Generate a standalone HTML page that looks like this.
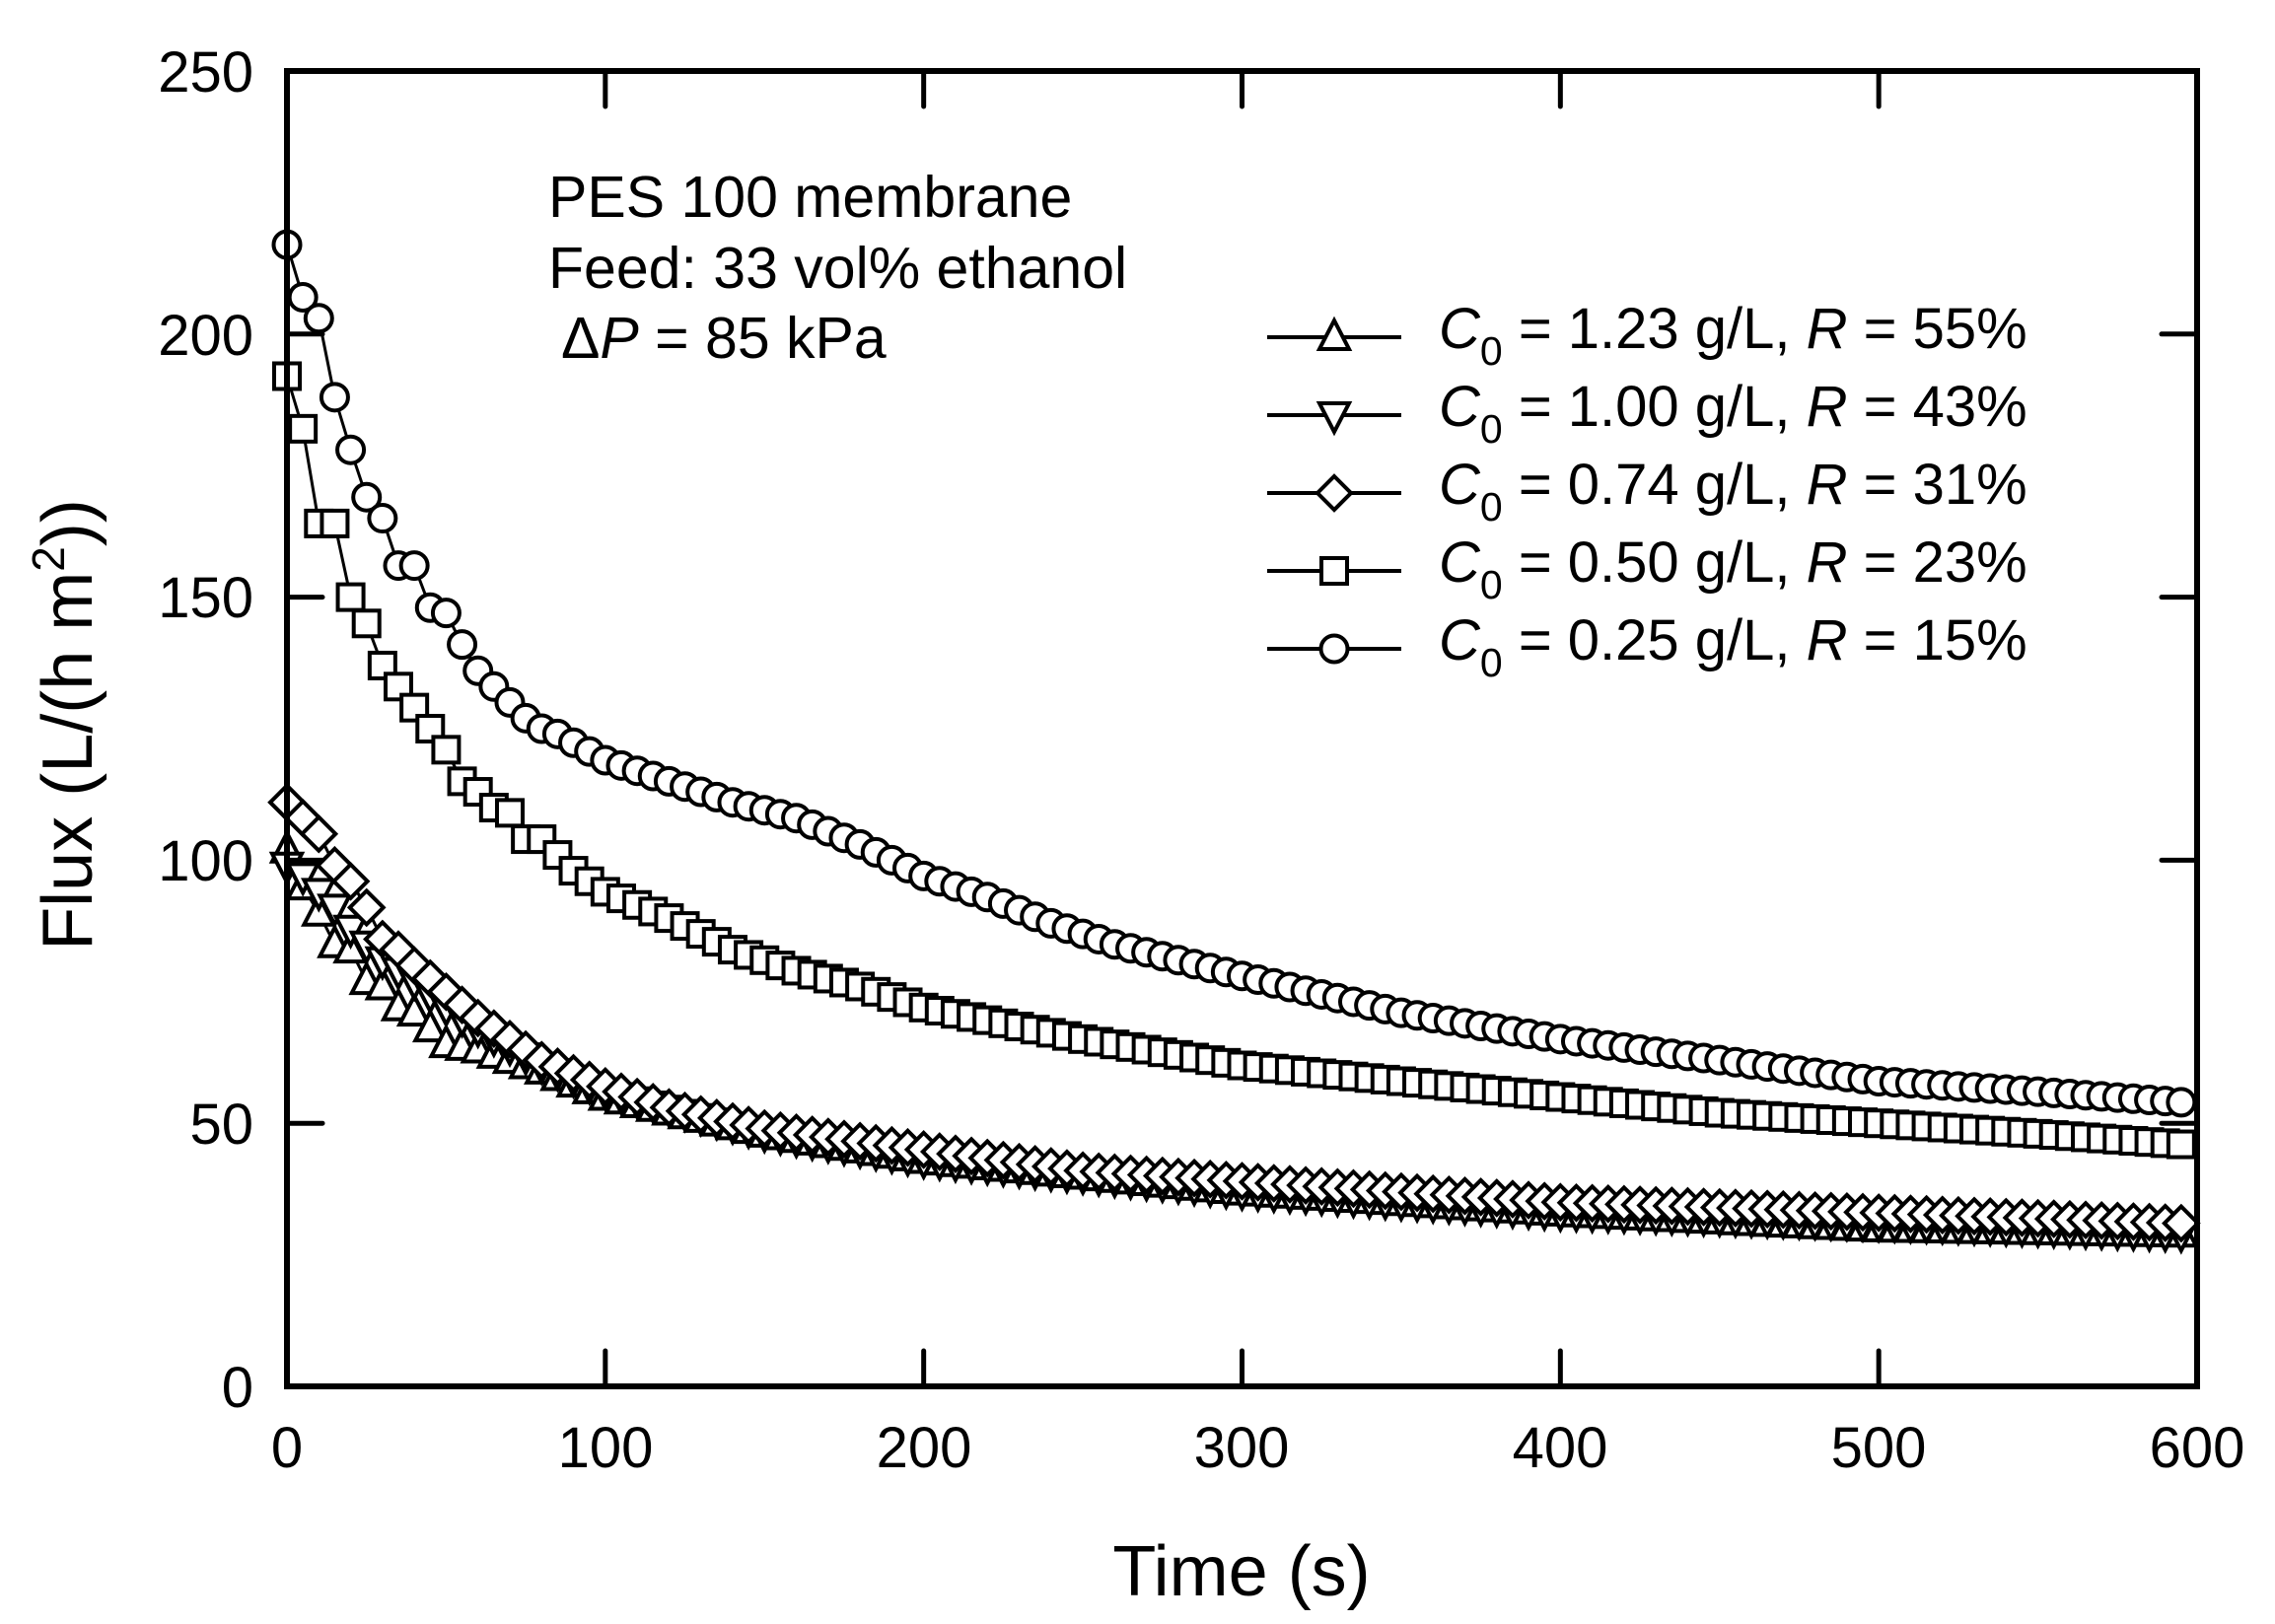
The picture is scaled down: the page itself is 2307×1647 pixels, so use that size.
<!DOCTYPE html>
<html><head><meta charset="utf-8">
<style>
html,body{margin:0;padding:0;background:#fff;}
svg{display:block;}
text{font-family:"Liberation Sans",Arial,sans-serif;fill:#000;}
</style></head>
<body>
<svg id="s" width="2307" height="1647" viewBox="0 0 2307 1647" xmlns="http://www.w3.org/2000/svg">
<rect width="2307" height="1647" fill="#fff"/>
<g id="data"></g>
<g id="axes" stroke="#000" fill="none" stroke-linecap="round">
<rect x="291" y="72" width="1937" height="1334" stroke-width="6"/>
</g>
<g font-size="58" text-anchor="end">
<text x="257" y="1427">0</text>
<text x="257" y="1160">50</text>
<text x="257" y="893">100</text>
<text x="257" y="626">150</text>
<text x="257" y="360">200</text>
<text x="257" y="93">250</text>
</g>
<g font-size="58" text-anchor="middle">
<text x="291" y="1488">0</text>
<text x="614" y="1488">100</text>
<text x="937" y="1488">200</text>
<text x="1259" y="1488">300</text>
<text x="1582" y="1488">400</text>
<text x="1905" y="1488">500</text>
<text x="2228" y="1488">600</text>
</g>
<text x="1259" y="1618" font-size="72" text-anchor="middle">Time (s)</text>
<text transform="translate(93,735) rotate(-90)" font-size="72" text-anchor="middle">Flux (L/(h m<tspan font-size="46" dy="-28">2</tspan><tspan dy="28">))</tspan></text>
<g font-size="59">
<text x="556" y="220">PES 100 membrane</text>
<text x="556" y="292">Feed: 33 vol% ethanol</text>
<text x="569" y="363">Δ<tspan font-style="italic">P</tspan> = 85 kPa</text>
</g>
<g id="legend"></g>
<g font-size="58">
<text x="1459" y="353"><tspan font-style="italic">C</tspan><tspan font-size="41" dy="17">0</tspan><tspan dy="-17"> = 1.23 g/L, </tspan><tspan font-style="italic">R</tspan> = 55%</text>
<text x="1459" y="432"><tspan font-style="italic">C</tspan><tspan font-size="41" dy="17">0</tspan><tspan dy="-17"> = 1.00 g/L, </tspan><tspan font-style="italic">R</tspan> = 43%</text>
<text x="1459" y="511"><tspan font-style="italic">C</tspan><tspan font-size="41" dy="17">0</tspan><tspan dy="-17"> = 0.74 g/L, </tspan><tspan font-style="italic">R</tspan> = 31%</text>
<text x="1459" y="590"><tspan font-style="italic">C</tspan><tspan font-size="41" dy="17">0</tspan><tspan dy="-17"> = 0.50 g/L, </tspan><tspan font-style="italic">R</tspan> = 23%</text>
<text x="1459" y="669"><tspan font-style="italic">C</tspan><tspan font-size="41" dy="17">0</tspan><tspan dy="-17"> = 0.25 g/L, </tspan><tspan font-style="italic">R</tspan> = 15%</text>
</g>
</svg>
<script>
(function(){
var NS="http://www.w3.org/2000/svg";
function X(t){return 291+t*1937/600;}
function Y(v){return 1406-v*1334/250;}
function el(p,n,a){var e=document.createElementNS(NS,n);for(var k in a)e.setAttribute(k,a[k]);p.appendChild(e);return e;}
var ax=document.getElementById('axes');
for(var i=1;i<6;i++){var x=X(i*100);
 el(ax,'line',{x1:x,y1:1406,x2:x,y2:1370,'stroke-width':5});
 el(ax,'line',{x1:x,y1:72,x2:x,y2:108,'stroke-width':5});}
for(var i=1;i<5;i++){var y=Y(i*50);
 el(ax,'line',{x1:291,y1:y,x2:327,y2:y,'stroke-width':5});
 el(ax,'line',{x1:2228,y1:y,x2:2192,y2:y,'stroke-width':5});}
function interp(a,t){for(var i=0;i<a.length-1;i++){if(t>=a[i][0]&&t<=a[i+1][0]){var f=(t-a[i][0])/(a[i+1][0]-a[i][0]);return a[i][1]+f*(a[i+1][1]-a[i][1]);}}return a[a.length-1][1];}
function marker(g,type,x,y){
 var s={fill:'#fff',stroke:'#000','stroke-width':4};
 if(type=='c'){s.cx=x;s.cy=y;s.r=13.5;el(g,'circle',s);}
 else if(type=='s'){s.x=x-13;s.y=y-13;s.width=26;s.height=26;el(g,'rect',s);}
 else if(type=='d'){s.points=(x)+','+(y-17)+' '+(x+17)+','+y+' '+x+','+(y+17)+' '+(x-17)+','+y;el(g,'polygon',s);}
 else if(type=='u'){s.points=x+','+(y-17)+' '+(x+15)+','+(y+12)+' '+(x-15)+','+(y+12);el(g,'polygon',s);}
 else if(type=='v'){s.points=x+','+(y+17)+' '+(x+15)+','+(y-12)+' '+(x-15)+','+(y-12);el(g,'polygon',s);}
}
var series=[
 ['u',[[0,102],[5,95],[10,90],[15,84],[20,83],[25,77],[30,76],[35,72],[40,71],[45,68],[50,65],[60,64],[70,62],[80,60],[100,55],[150,48],[200,43],[300,37],[400,33],[500,30],[595,29]]],
 ['v',[[0,99],[5,97],[10,94],[15,91],[20,87],[25,84],[30,81],[40,77],[50,72],[60,68],[80,61],[100,56],[150,48],[200,43],[300,37],[400,33],[500,31],[595,29]]],
 ['d',[[0,111],[5,108],[10,105],[15,99],[20,96],[25,91],[30,85],[35,83],[40,80],[50,75],[60,70],[70,66],[80,62],[100,57],[120,53],[150,49],[200,45],[250,41],[300,39],[350,37],[400,35],[500,33],[595,31]]],
 ['s',[[0,192],[5,182],[10,164],[15,164],[20,150],[25,145],[30,137],[35,133],[40,129],[45,125],[50,121],[55,115],[60,113],[65,110],[70,109],[75,104],[80,104],[85,101],[90,98],[100,94],[120,89],[140,83],[160,79],[180,76],[200,72],[250,66],[300,61],[350,58],[400,55],[450,52],[500,50],[550,48],[595,46]]],
 ['c',[[0,217],[5,207],[10,203],[15,188],[20,178],[25,169],[30,165],[35,156],[40,156],[45,148],[50,147],[55,141],[60,136],[65,133],[70,130],[75,127],[80,125],[85,124],[100,119],[120,115],[140,111],[160,108],[180,103],[200,97],[220,93],[240,88],[260,84],[280,81],[300,78],[350,71],[400,66],[450,62],[500,58],[550,56],[595,54]]]
];
var dg=document.getElementById('data');
series.forEach(function(s){
 var pts=[];for(var t=0;t<=595;t+=5)pts.push([X(t),Y(interp(s[1],t))]);
 el(dg,'polyline',{points:pts.map(function(p){return p[0].toFixed(1)+','+p[1].toFixed(1)}).join(' '),fill:'none',stroke:'#000','stroke-width':3});
 var g=el(dg,'g',{});
 pts.forEach(function(p){marker(g,s[0],p[0],p[1]);});
});
var lg=document.getElementById('legend');
var rows=[['u',342],['v',421],['d',500],['s',579],['c',658]];
rows.forEach(function(r){
 el(lg,'line',{x1:1285,y1:r[1],x2:1421,y2:r[1],stroke:'#000','stroke-width':4});
 marker(lg,r[0],1353,r[1]);
});
})();
</script>
</body></html>
